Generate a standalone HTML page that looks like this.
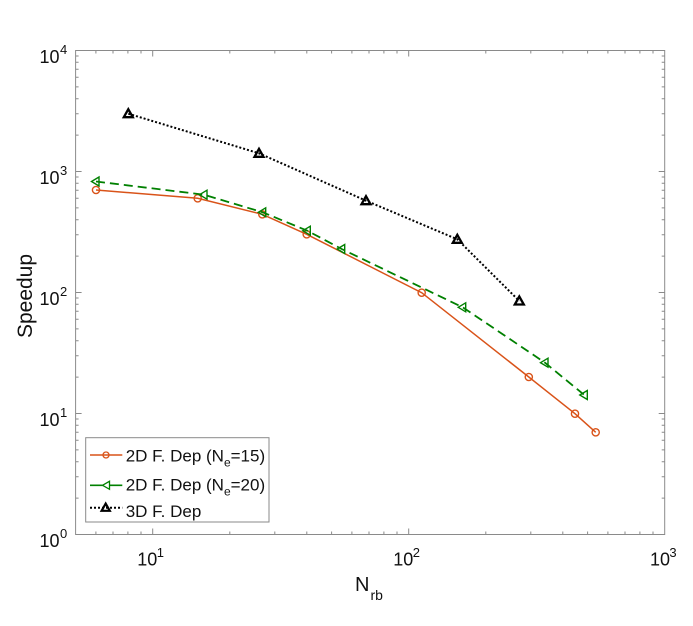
<!DOCTYPE html>
<html><head><meta charset="utf-8"><style>
html,body{margin:0;padding:0;background:#fff;}
svg{display:block;}
text{font-family:"Liberation Sans",Arial,sans-serif;fill:#111;}
</style></head><body>
<svg width="693" height="626" viewBox="0 0 693 626" xmlns="http://www.w3.org/2000/svg">
<rect x="0" y="0" width="693" height="626" fill="#fff"/>
<!-- axes box -->
<rect x="75.6" y="50.5" width="589.1" height="484" fill="none" stroke="#8a8a8a" stroke-width="1"/>
<g stroke="#8a8a8a" stroke-width="1" fill="none">
<path d="M95.9 534.5v-3M113 534.5v-3M127.9 534.5v-3M141 534.5v-3M229.8 534.5v-3M274.8 534.5v-3M306.8 534.5v-3M331.6 534.5v-3M351.9 534.5v-3M369 534.5v-3M383.9 534.5v-3M397 534.5v-3M485.8 534.5v-3M530.8 534.5v-3M562.8 534.5v-3M587.6 534.5v-3M607.9 534.5v-3M625 534.5v-3M639.9 534.5v-3M653 534.5v-3"/>
<path d="M95.9 50.5v3M113 50.5v3M127.9 50.5v3M141 50.5v3M229.8 50.5v3M274.8 50.5v3M306.8 50.5v3M331.6 50.5v3M351.9 50.5v3M369 50.5v3M383.9 50.5v3M397 50.5v3M485.8 50.5v3M530.8 50.5v3M562.8 50.5v3M587.6 50.5v3M607.9 50.5v3M625 50.5v3M639.9 50.5v3M653 50.5v3"/>
<path d="M152.7 534.5v-6M408.7 534.5v-6M152.7 50.5v6M408.7 50.5v6"/>
<path d="M75.6 498.1h3M75.6 476.8h3M75.6 461.7h3M75.6 449.9h3M75.6 440.3h3M75.6 432.2h3M75.6 425.2h3M75.6 419h3
M75.6 377.1h3M75.6 355.8h3M75.6 340.7h3M75.6 328.9h3M75.6 319.3h3M75.6 311.2h3M75.6 304.2h3M75.6 298h3
M75.6 256.1h3M75.6 234.8h3M75.6 219.7h3M75.6 207.9h3M75.6 198.3h3M75.6 190.2h3M75.6 183.2h3M75.6 177h3
M75.6 135.1h3M75.6 113.8h3M75.6 98.7h3M75.6 86.9h3M75.6 77.3h3M75.6 69.2h3M75.6 62.2h3M75.6 56h3"/>
<path d="M664.7 498.1h-3M664.7 476.8h-3M664.7 461.7h-3M664.7 449.9h-3M664.7 440.3h-3M664.7 432.2h-3M664.7 425.2h-3M664.7 419h-3
M664.7 377.1h-3M664.7 355.8h-3M664.7 340.7h-3M664.7 328.9h-3M664.7 319.3h-3M664.7 311.2h-3M664.7 304.2h-3M664.7 298h-3
M664.7 256.1h-3M664.7 234.8h-3M664.7 219.7h-3M664.7 207.9h-3M664.7 198.3h-3M664.7 190.2h-3M664.7 183.2h-3M664.7 177h-3
M664.7 135.1h-3M664.7 113.8h-3M664.7 98.7h-3M664.7 86.9h-3M664.7 77.3h-3M664.7 69.2h-3M664.7 62.2h-3M664.7 56h-3"/>
<path d="M75.6 413.5h6M75.6 292.5h6M75.6 171.5h6M664.7 413.5h-6M664.7 292.5h-6M664.7 171.5h-6"/>
</g>

<!-- y tick labels -->
<g font-size="18">
<text x="59.5" y="62.8" text-anchor="end">10</text><text x="60" y="54" font-size="13">4</text>
<text x="59.5" y="183.8" text-anchor="end">10</text><text x="60" y="175" font-size="13">3</text>
<text x="59.5" y="304.8" text-anchor="end">10</text><text x="60" y="296" font-size="13">2</text>
<text x="59.5" y="425.8" text-anchor="end">10</text><text x="60" y="417" font-size="13">1</text>
<text x="59.5" y="546.8" text-anchor="end">10</text><text x="60" y="538" font-size="13">0</text>
</g>
<!-- x tick labels -->
<g font-size="18">
<text x="137.3" y="565.7">10</text><text x="156.7" y="557" font-size="13">1</text>
<text x="393.3" y="565.7">10</text><text x="412.7" y="557" font-size="13">2</text>
<text x="650" y="565.7">10</text><text x="669.4" y="557" font-size="13">3</text>
</g>

<!-- axis labels -->
<text transform="translate(32,296) rotate(-90)" text-anchor="middle" font-size="21">Speedup</text>
<text x="355" y="591" font-size="20">N</text><text x="370.5" y="600" font-size="14">rb</text>

<!-- series: orange -->
<g stroke="#D95319" fill="none" stroke-width="1.5">
<path d="M96 190L197.7 198.3L262.3 214.3L306.7 234.3L421.7 292.7L528.8 377L575 413.7L595.7 432.3"/>
<g stroke-width="1.4">
<circle cx="96" cy="190" r="3.6"/><circle cx="197.7" cy="198.3" r="3.6"/><circle cx="262.3" cy="214.3" r="3.6"/><circle cx="306.7" cy="234.3" r="3.6"/><circle cx="421.7" cy="292.7" r="3.6"/><circle cx="528.8" cy="377" r="3.6"/><circle cx="575" cy="413.7" r="3.6"/><circle cx="595.7" cy="432.3" r="3.6"/>
</g>
</g>

<!-- series: green -->
<g stroke="#008000" fill="none" stroke-width="1.8">
<path d="M96 181.5L204 194.7L262.7 212.3L307.3 230.7L341.7 249L462.7 307.3L545 362.7L584.3 395" stroke-dasharray="9 5"/>
<g stroke-width="1.4">
<path d="M91.5 181.5L99 177L99 186Z"/>
<path d="M199.5 194.7L207 190.2L207 199.2Z"/>
<path d="M258.2 212.3L265.7 207.8L265.7 216.8Z"/>
<path d="M302.8 230.7L310.3 226.2L310.3 235.2Z"/>
<path d="M337.2 249L344.7 244.5L344.7 253.5Z"/>
<path d="M458.2 307.3L465.7 302.8L465.7 311.8Z"/>
<path d="M540.5 362.7L548 358.2L548 367.2Z"/>
<path d="M579.8 395L587.3 390.5L587.3 399.5Z"/>
</g>
</g>

<!-- series: black -->
<g stroke="#000" fill="none">
<path d="M128.3 113.7L259 153.3L366 200.7L457.3 239.3L519.3 301" stroke-width="2" stroke-dasharray="2 2"/>
<g stroke-width="2.3">
<path d="M128.3 109.2L123.8 117.2L132.8 117.2Z"/>
<path d="M259 148.8L254.5 156.8L263.5 156.8Z"/>
<path d="M366 196.2L361.5 204.2L370.5 204.2Z"/>
<path d="M457.3 234.8L452.8 242.8L461.8 242.8Z"/>
<path d="M519.3 296.5L514.8 304.5L523.8 304.5Z"/>
</g>
</g>

<!-- legend -->
<rect x="85.7" y="437.7" width="183.3" height="84.3" fill="#fff" stroke="#8a8a8a" stroke-width="1"/>
<g fill="none">
<path d="M90 455H122.3" stroke="#D95319" stroke-width="1.5"/>
<circle cx="106" cy="455" r="3" stroke="#D95319" stroke-width="1.3"/>
<path d="M90 485.3H122.3" stroke="#008000" stroke-width="1.6"/>
<path d="M102.5 485.3L109.5 481.3L109.5 489.3Z" stroke="#008000" stroke-width="1.3" fill="#fff"/>
<path d="M90 507.7H122.3" stroke="#000" stroke-width="2" stroke-dasharray="2 2"/>
<path d="M105.7 503.6L101.6 510.8L109.8 510.8Z" stroke="#000" stroke-width="2.2"/>
</g>
<g font-size="17">
<text x="125.7" y="461.7">2D F. Dep (N<tspan font-size="12" dy="5">e</tspan><tspan dy="-5">=15)</tspan></text>
<text x="125.7" y="490.5">2D F. Dep (N<tspan font-size="12" dy="5">e</tspan><tspan dy="-5">=20)</tspan></text>
<text x="125.7" y="517">3D F. Dep</text>
</g>
</svg>
</body></html>
